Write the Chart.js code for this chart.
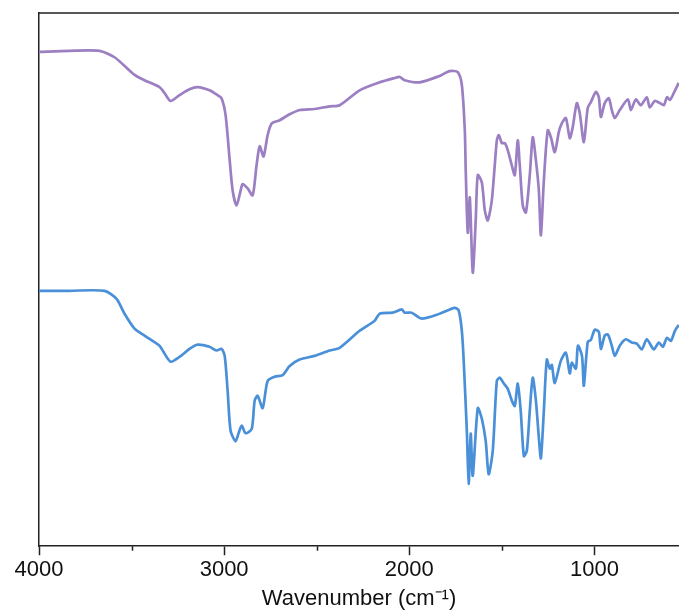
<!DOCTYPE html>
<html>
<head>
<meta charset="utf-8">
<script src="https://cdn.jsdelivr.net/npm/chart.js@4"></script>
<style>
  html, body { margin: 0; padding: 0; background: #fff; overflow: hidden; }
  #wrap { width: 679px; height: 614px; }
</style>
</head>
<body>
<div id="wrap"><canvas id="irChart" width="679" height="614"></canvas></div>
<script>
// x axis ticks (wavenumber, cm-1)
const tickValues = [4000, 3500, 3000, 2500, 2000, 1500, 1000];

// upper (purple) spectrum
const purpleWn = [4000, 3835, 3673, 3592, 3484, 3430, 3349, 3322, 3289, 3241, 3187, 3143, 3079, 3036, 3014,
  2992, 2970, 2954, 2933, 2911, 2900, 2873, 2846, 2825, 2808, 2787, 2765, 2743, 2700, 2646, 2592, 2511, 2430,
  2376, 2268, 2160, 2079, 2052, 2025, 1944, 1836, 1782, 1738, 1716, 1700, 1695, 1684, 1673, 1657, 1641, 1630,
  1608, 1592, 1576, 1554, 1527, 1516, 1500, 1484, 1468, 1446, 1430, 1414, 1403, 1387, 1370, 1349, 1333, 1316,
  1300, 1289, 1273, 1252, 1235, 1214, 1192, 1176, 1154, 1133, 1117, 1095, 1079, 1057, 1036, 1019, 992, 976,
  965, 944, 922, 906, 890, 863, 819, 803, 776, 749, 717, 701, 674, 646, 625, 608, 592, 571, 544];
const purpleT = [92.7, 92.9, 92.9, 91.7, 88.4, 87.4, 86.1, 85.0, 83.5, 84.6, 85.7, 86.1, 85.5, 84.6, 84.0,
  80.8, 72.4, 66.7, 63.9, 66.7, 67.9, 67.1, 65.8, 71.4, 75.0, 73.1, 77.1, 79.3, 79.9, 81.0, 81.8, 82.0, 82.5,
  82.7, 85.5, 87.0, 87.8, 88.0, 87.4, 87.0, 88.2, 89.1, 88.9, 86.5, 78.0, 70.5, 58.8, 65.4, 51.3, 61.1, 69.6,
  68.2, 63.0, 61.1, 64.9, 76.1, 77.1, 75.6, 75.6, 74.3, 71.4, 69.6, 76.1, 71.4, 63.9, 62.6, 69.6, 76.7, 72.4,
  66.7, 58.3, 68.6, 78.0, 76.7, 73.9, 77.7, 79.3, 80.3, 76.5, 78.6, 83.1, 81.2, 75.8, 82.2, 83.3, 85.2, 84.2,
  80.5, 83.1, 84.0, 81.8, 80.3, 81.8, 83.8, 81.8, 83.8, 82.7, 84.2, 82.3, 83.5, 83.1, 82.7, 84.2, 83.7, 85.0, 86.9];

// lower (blue) spectrum
const blueWn = [4000, 3835, 3646, 3581, 3538, 3484, 3430, 3349, 3332, 3289, 3241, 3187, 3143, 3079, 3041, 3014,
  2997, 2981, 2965, 2938, 2922, 2905, 2884, 2851, 2835, 2819, 2792, 2765, 2727, 2684, 2646, 2592, 2511, 2430,
  2376, 2268, 2187, 2160, 2090, 2041, 2025, 1987, 1933, 1836, 1755, 1733, 1716, 1706, 1689, 1679, 1668, 1657,
  1630, 1608, 1587, 1571, 1549, 1527, 1511, 1489, 1468, 1446, 1430, 1414, 1398, 1381, 1365, 1349, 1333, 1316,
  1300, 1289, 1273, 1257, 1241, 1230, 1214, 1181, 1154, 1133, 1122, 1100, 1089, 1067, 1057, 1036, 1019, 998,
  976, 965, 944, 927, 906, 890, 863, 830, 798, 771, 744, 717, 679, 652, 630, 608, 587, 565, 544];
const blueT = [47.9, 47.9, 47.9, 46.4, 43.6, 40.8, 39.5, 37.6, 36.7, 34.6, 35.5, 37.0, 37.8, 37.4, 36.7, 37.0,
  35.7, 29.1, 21.6, 19.7, 21.2, 22.6, 21.2, 22.0, 27.3, 28.2, 25.9, 31.0, 31.8, 32.1, 33.8, 35.0, 35.7, 36.7,
  37.2, 40.4, 42.3, 43.6, 43.8, 44.4, 43.8, 43.8, 42.7, 43.6, 44.7, 44.2, 40.4, 34.8, 21.6, 11.7, 21.1, 13.2,
  25.9, 23.9, 19.7, 13.5, 17.9, 31.0, 31.6, 30.5, 29.5, 27.3, 26.3, 30.5, 25.4, 16.9, 17.9, 25.4, 31.6, 27.3,
  20.3, 16.5, 25.4, 35.0, 33.3, 34.0, 30.6, 34.8, 36.3, 32.4, 34.4, 33.3, 37.6, 35.7, 30.1, 38.3, 38.7, 40.6,
  40.2, 37.0, 39.5, 39.7, 37.6, 35.7, 37.6, 38.8, 38.2, 38.0, 36.9, 38.8, 36.9, 38.2, 37.4, 39.1, 38.5, 40.4, 41.5];

const toPoints = (xs, ys) => xs.map((x, i) => ({ x: x, y: ys[i] }));

// top spine + short minor ticks
const framePlugin = {
  id: 'frame',
  afterDraw(chart) {
    const { ctx, chartArea } = chart;
    const xs = chart.scales.x;
    ctx.save();
    ctx.strokeStyle = '#222';
    ctx.lineWidth = 1.5;
    ctx.beginPath();
    ctx.moveTo(chartArea.left, chartArea.top);
    ctx.lineTo(chartArea.right, chartArea.top);
    tickValues.forEach(v => {
      if (v % 1000 !== 0) {
        const px = Math.round(xs.getPixelForValue(v)) + 0.5;
        ctx.moveTo(px, chartArea.bottom);
        ctx.lineTo(px, chartArea.bottom + 4.5);
      }
    });
    ctx.stroke();
    ctx.restore();
  }
};

new Chart(document.getElementById('irChart').getContext('2d'), {
  type: 'line',
  data: {
    datasets: [
      { data: toPoints(purpleWn, purpleT), borderColor: '#9b7fc2', borderWidth: 2.7, pointRadius: 0, tension: 0.25 },
      { data: toPoints(blueWn, blueT), borderColor: '#4a90d9', borderWidth: 2.7, pointRadius: 0, tension: 0.25 }
    ]
  },
  options: {
    responsive: false,
    animation: false,
    layout: { padding: { left: 39, top: 13, right: 0, bottom: 2 } },
    plugins: { legend: { display: false }, tooltip: { enabled: false } },
    scales: {
      x: {
        type: 'linear',
        reverse: true,
        min: 543,
        max: 4000,
        afterBuildTicks: axis => { axis.ticks = tickValues.map(v => ({ value: v })); },
        border: { color: '#222', width: 1.5 },
        grid: {
          drawOnChartArea: false,
          tickLength: 9,
          tickWidth: 1.5,
          tickColor: c => (c.tick && c.tick.value % 1000 === 0) ? '#222' : 'rgba(0,0,0,0)'
        },
        ticks: {
          autoSkip: false,
          maxRotation: 0,
          padding: 2,
          color: '#111',
          font: { family: 'Liberation Sans, Arial, sans-serif', size: 22 },
          callback: v => (v % 1000 === 0 ? String(v) : '')
        },
        title: {
          display: true,
          text: 'Wavenumber (cm⁻¹)',
          color: '#111',
          font: { family: 'Liberation Sans, Arial, sans-serif', size: 22 },
          padding: { top: 0, bottom: 0 }
        }
      },
      y: {
        min: 0,
        max: 100,
        border: { color: '#222', width: 1.5 },
        grid: { display: false, drawTicks: false },
        ticks: { display: false }
      }
    }
  },
  plugins: [framePlugin]
});
</script>
</body>
</html>
